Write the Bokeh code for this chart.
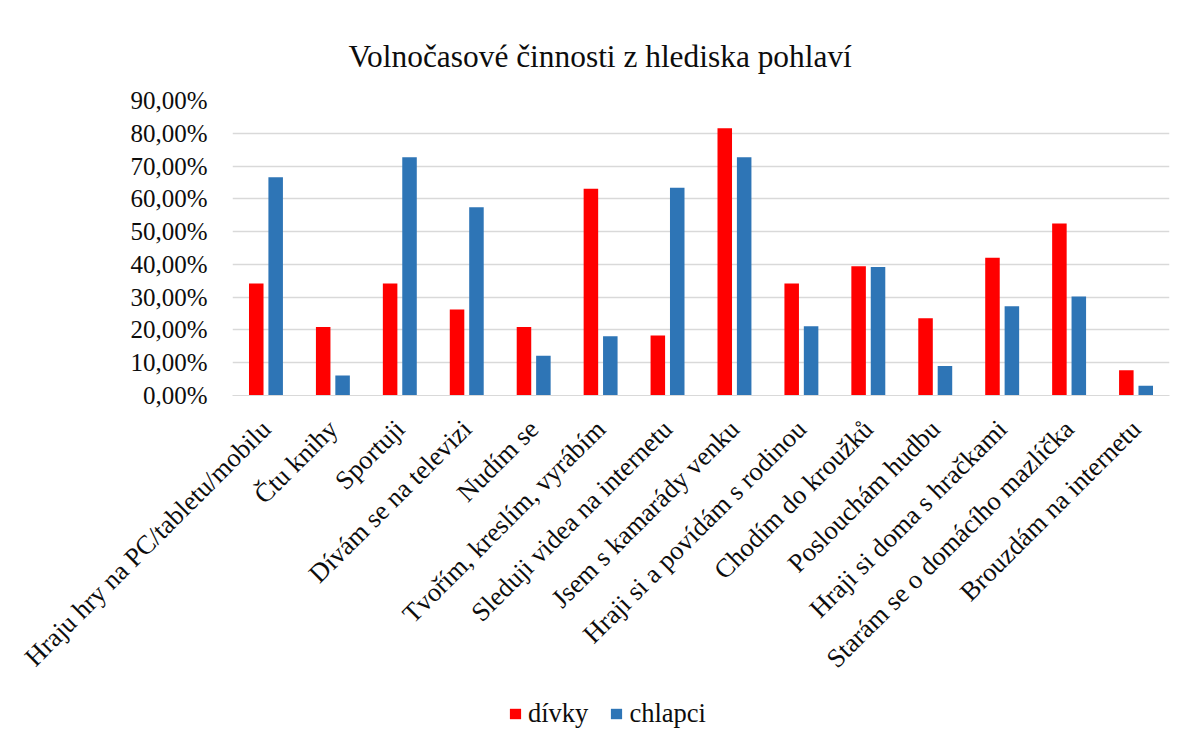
from bokeh.plotting import figure
from bokeh.layouts import column
from bokeh.models import (FactorRange, Range1d, FixedTicker, ColumnDataSource,
                          Legend, LegendItem)
from bokeh.transform import dodge
from bokeh.embed import file_html
from bokeh.resources import INLINE
import math

categories = ["Hraju hry na PC/tabletu/mobilu", "Čtu knihy", "Sportuji",
              "Dívám se na televizi", "Nudím se", "Tvořím, kreslím, vyrábím",
              "Sleduji videa na internetu", "Jsem s kamarády venku",
              "Hraji si a povídám s rodinou", "Chodím do kroužků",
              "Poslouchám hudbu", "Hraji si doma s hračkami",
              "Starám se o domácího mazlíčka", "Brouzdám na internetu"]
divky = [34.2, 20.9, 34.2, 26.2, 20.9, 63.1, 18.3, 81.5, 34.2, 39.4, 23.6, 42.0, 52.5, 7.7]
chlapci = [66.6, 6.1, 72.7, 57.4, 12.1, 18.1, 63.4, 72.7, 21.1, 39.2, 9.0, 27.2, 30.2, 3.0]
y_ticks = [0, 10, 20, 30, 40, 50, 60, 70, 80, 90]
y_tick_labels = ["0,00%", "10,00%", "20,00%", "30,00%", "40,00%", "50,00%",
                 "60,00%", "70,00%", "80,00%", "90,00%"]
series_names = ["dívky", "chlapci"]
series_colors = ["#FF0000", "#2E75B6"]
title_text = "Volnočasové činnosti z hlediska pohlaví"

FONT = "Liberation Serif"
GRID = "#d9d9d9"
TXT = "#0d0d0d"

src = ColumnDataSource(dict(cat=categories, divky=divky, chlapci=chlapci))

p = figure(width=1180, height=690, output_backend="svg", toolbar_location=None,
           x_range=FactorRange(factors=categories, range_padding=0),
           y_range=Range1d(0, 90),
           min_border_left=232, min_border_right=11, min_border_top=100,
           min_border_bottom=295)

p.title.text = title_text
p.title.text_font = FONT
p.title.text_font_size = "31.4px"
p.title.text_font_style = "normal"
p.title.text_color = TXT
p.title.align = "left"
p.title.offset = 116
p.title.standoff = 53

p.outline_line_color = None
p.background_fill_color = "white"
p.border_fill_color = "white"

p.vbar(x=dodge("cat", -0.145, range=p.x_range), top="divky", width=0.217,
       source=src, fill_color=series_colors[0], line_color=None)
p.vbar(x=dodge("cat", 0.145, range=p.x_range), top="chlapci", width=0.217,
       source=src, fill_color=series_colors[1], line_color=None)

xa = p.xaxis[0]
xa.major_label_orientation = math.pi / 4
xa.major_label_text_font = FONT
xa.major_label_text_font_size = "26.5px"
xa.major_label_text_color = TXT
xa.major_tick_line_color = None
xa.minor_tick_line_color = None
xa.axis_line_color = GRID
xa.major_label_standoff = 23

ya = p.yaxis[0]
ya.ticker = FixedTicker(ticks=y_ticks)
ya.major_label_overrides = {t: l for t, l in zip(y_ticks, y_tick_labels)}
ya.major_label_text_font = FONT
ya.major_label_text_font_size = "25px"
ya.major_label_text_color = TXT
ya.axis_line_color = None
ya.major_tick_line_color = None
ya.minor_tick_line_color = None
ya.major_tick_out = 0
ya.major_tick_in = 0
ya.major_label_standoff = 25

p.xgrid.grid_line_color = None
p.ygrid.ticker = FixedTicker(ticks=y_ticks)
p.ygrid.grid_line_color = GRID
p.ygrid.grid_line_width = 1.3

# legend strip below the chart (its bars lie outside its visible y range)
lf = figure(width=1180, height=44, output_backend="svg", toolbar_location=None,
            x_range=FactorRange(factors=categories, range_padding=0),
            y_range=Range1d(1000, 1001),
            min_border_left=0, min_border_right=0, min_border_top=0,
            min_border_bottom=0, x_axis_location=None, y_axis_location=None)
lf.outline_line_color = None
lf.xgrid.visible = False
lf.ygrid.visible = False
lr1 = lf.vbar(x=dodge("cat", -0.145, range=lf.x_range), top="divky", width=0.217,
              source=src, fill_color=series_colors[0], line_color=None)
lr2 = lf.vbar(x=dodge("cat", 0.145, range=lf.x_range), top="chlapci", width=0.217,
              source=src, fill_color=series_colors[1], line_color=None)
legend = Legend(items=[LegendItem(label=series_names[0], renderers=[lr1]),
                       LegendItem(label=series_names[1], renderers=[lr2])],
                orientation="horizontal", location=(276, 5),
                padding=0, spacing=21, label_standoff=6,
                glyph_width=14, glyph_height=13, margin=0,
                label_text_font=FONT, label_text_font_size="26.5px",
                label_text_color=TXT,
                border_line_color=None, background_fill_alpha=0)
lf.add_layout(legend, "center")

layout = column(p, lf, spacing=0)
open("out.html", "w").write(file_html(layout, INLINE))
